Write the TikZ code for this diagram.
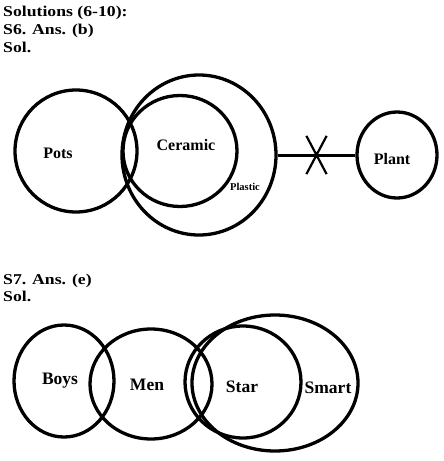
\documentclass[tikz,border=0pt]{standalone}
\usepackage{fontspec}
\setmainfont{Liberation Serif}
\newfontfamily\headfont[FakeStretch=1.18]{Liberation Serif}
\usetikzlibrary{shapes, positioning}
\tikzset{
	set/.style={ellipse,
		draw=black,
		line width=3.3pt,
		inner sep=0pt,
		},
	heading/.style={anchor=base west,
		inner sep=0pt,
		font=\headfont \fontsize{15}{17}\selectfont \bfseries
		},
	setname/.style={inner sep=0pt,
		font=\fontsize{16}{18}\selectfont \bfseries
		},
	bigname/.style={inner sep=0pt,
		font=\fontsize{17.5}{19}\selectfont \bfseries
		},
	smallname/.style={inner sep=0pt,
		font=\fontsize{10.5}{12}\selectfont \bfseries
		},
	link/.style={line width=3pt},
	cut/.style={cross out, draw, line width=2.2pt,
		minimum width=18pt, minimum height=36pt
		}
}
\begin{document}
\begin{tikzpicture}[x=1pt, y=-1pt]
   \useasboundingbox (0,0) rectangle (444,461);

   % S6
   \node[heading] (solutions) at (3,16) {Solutions (6-10):};
   \node[heading] (ans6) at (3,34) {S6. Ans. (b)};
   \node[heading] (sol6) at (3,52) {Sol.};

   \node[set, minimum width=122pt, minimum height=122pt] (pots) at (76,151) {};
   \node[set, minimum width=114pt, minimum height=111pt] (ceramic) at (180,151) {};
   \node[set, minimum width=154pt, minimum height=160pt] (plastic) at (199,155) {};
   \node[set, minimum width=80pt, minimum height=86pt] (plant) at (397,155) {};

   \node[setname] (potsname) at (58,153) {Pots};
   \node[setname] (ceramicname) at (186,145) {Ceramic};
   \node[smallname] (plasticname) at (245,187) {Plastic};
   \node[setname] (plantname) at (392,159) {Plant};

   \draw[link] (plastic.east) -- node[cut] (cross) {} (plant.west);

   % S7
   \node[heading] (ans7) at (3,284) {S7. Ans. (e)};
   \node[heading] (sol7) at (3,301) {Sol.};

   \node[set, minimum width=100pt, minimum height=112pt] (boys) at (64,381) {};
   \node[set, minimum width=122pt, minimum height=110pt] (men) at (151,384) {};
   \node[set, minimum width=116pt, minimum height=112pt] (star) at (243,382) {};
   \node[set, minimum width=166pt, minimum height=136pt] (smart) at (275,383) {};

   \node[bigname] (boysname) at (60,381) {Boys};
   \node[bigname] (menname) at (147,385) {Men};
   \node[bigname] (starname) at (242,387) {Star};
   \node[bigname] (smartname) at (328,388) {Smart};
\end{tikzpicture}
\end{document}
